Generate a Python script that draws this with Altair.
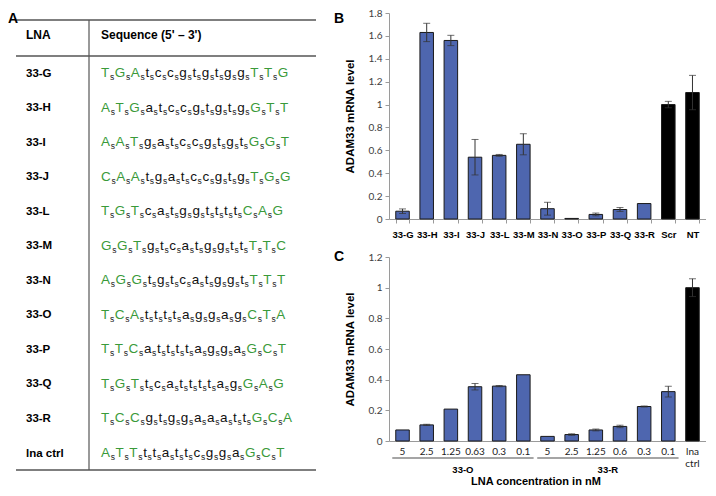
import altair as alt
import pandas as pd

# ---------------- data ----------------
LNA_NAMES = ["33-G", "33-H", "33-I", "33-J", "33-L", "33-M", "33-N",
             "33-O", "33-P", "33-Q", "33-R", "lna ctrl"]
SEQUENCES = ["TGAtccgtgtggTTG", "ATGatccgtgtgGTT", "AATgatccgtgtGGT",
             "CAAtgatccgtgTGG", "TGTcatggttttCAG", "GGTgtcatggttTTC",
             "AGGtgtcatggtTTT", "TCAttttaggagCTA", "TTCattttaggaGCT",
             "TGTtcattttagGAG", "TCCgtggaaattGCA", "ATTttattcggaGCT"]

B_CATS = ["33-G", "33-H", "33-I", "33-J", "33-L", "33-M", "33-N",
          "33-O", "33-P", "33-Q", "33-R", "Scr", "NT"]
B_VALUES = [0.068, 1.63, 1.56, 0.54, 0.556, 0.653, 0.09, 0.005, 0.04, 0.083, 0.135, 1.0, 1.105]
B_ERRORS = [0.02, 0.08, 0.045, 0.155, 0.008, 0.092, 0.056, 0.0, 0.012, 0.017, 0.0, 0.028, 0.15]
B_CONTROLS = ["Scr", "NT"]
B_TICKS = [0, 0.2, 0.4, 0.6, 0.8, 1.0, 1.2, 1.4, 1.6, 1.8]

C_GROUPS = ["33-O"] * 6 + ["33-R"] * 6 + ["ctrl"]
C_CONC = ["5", "2.5", "1.25", "0.63", "0.3", "0.1",
          "5", "2.5", "1.25", "0.6", "0.3", "0.1", "lna ctrl"]
C_VALUES = [0.072, 0.105, 0.208, 0.354, 0.358, 0.432,
            0.03, 0.042, 0.072, 0.095, 0.225, 0.322, 1.0]
C_ERRORS = [0.0, 0.004, 0.0, 0.021, 0.004, 0.0,
            0.0, 0.005, 0.006, 0.008, 0.004, 0.035, 0.058]
C_GROUP_LABELS = ["33-O", "33-R"]
C_TICKS = [0, 0.2, 0.4, 0.6, 0.8, 1.0, 1.2]

# ---------------- style / layout ----------------
BLUE = "#4E66AF"
GREEN = "#3A9A3A"
FONT = "Liberation Sans"
NUMFONT = "Lato"
AXIS_GRAY = "#9a9a9a"
ERR = "#333333"

X0, Y0 = 8, 14            # page position of the chart origin
TW, TH = 381, 462         # table panel
BW, BH = 317, 206         # panel B plot
CH = 184                  # panel C plot height
VSPACE = (258 - Y0) - BH  # C plot top at page y 258

PAD_IN, PAD_OUT = 0.44, 0.28
STEP = BW / (len(B_CATS) - PAD_IN + 2 * PAD_OUT)


def lx(px):
    return px - X0


def ly(py):
    return py - Y0


TABLE_LEFT, TABLE_RIGHT = 16, 316
TABLE_TOP, HEADER_LINE, TABLE_BOTTOM = 21, 57, 471
COL_LINE = 89
LABEL_X, SEQ_X = 26, 101
HEADER_Y = 35
ROW0 = 73
ROWSTEP = (453 - 73) / (len(LNA_NAMES) - 1)

# Liberation Sans / Arial advance widths (em)
WIDTHS = {"A": 0.667, "C": 0.722, "G": 0.778, "T": 0.611,
          "a": 0.556, "c": 0.5, "g": 0.556, "t": 0.278}
FS, FSS = 13.5, 8.5
S_ADV = 0.5 * FSS
_base = sum(WIDTHS[c] * FS for c in SEQUENCES[0]) + S_ADV * (len(SEQUENCES[0]) - 1)
TRACK = (188 - _base) / (2 * len(SEQUENCES[0]) - 1)

# ---------------- table (panel A) ----------------
tx = alt.Scale(domain=[0, TW], nice=False, zero=False)
ty = alt.Scale(domain=[0, TH], nice=False, zero=False, reverse=True)


def X(field):
    return alt.X(field, scale=tx, axis=None)


def Y(field):
    return alt.Y(field, scale=ty, axis=None)


hl = pd.DataFrame({"x": [lx(TABLE_LEFT)] * 3, "x2": [lx(TABLE_RIGHT)] * 3,
                   "y": [ly(TABLE_TOP), ly(HEADER_LINE), ly(TABLE_BOTTOM)]})
vl = pd.DataFrame({"x": [lx(COL_LINE)], "y": [ly(TABLE_TOP)], "y2": [ly(TABLE_BOTTOM)]})

hrules = alt.Chart(hl).mark_rule(color="#555555", strokeWidth=1.5).encode(
    x=X("x:Q"), x2="x2:Q", y=Y("y:Q"))
vrules = alt.Chart(vl).mark_rule(color="#555555", strokeWidth=1.2).encode(
    x=X("x:Q"), y=Y("y:Q"), y2="y2:Q")

head = pd.DataFrame({"x": [lx(LABEL_X), lx(SEQ_X)], "y": [ly(HEADER_Y + 4.5)] * 2,
                     "t": ["LNA", "Sequence (5' \u2013 3')"]})
head_txt = alt.Chart(head).mark_text(align="left", baseline="alphabetic", font=FONT,
                                     fontSize=12, fontWeight="bold", color="black").encode(
    x=X("x:Q"), y=Y("y:Q"), text="t:N")

lab = pd.DataFrame({"x": [lx(LABEL_X)] * len(LNA_NAMES),
                    "y": [ly(ROW0 + i * ROWSTEP + 4.5) for i in range(len(LNA_NAMES))],
                    "t": LNA_NAMES})
lab_txt = alt.Chart(lab).mark_text(align="left", baseline="alphabetic", font=FONT,
                                   fontSize=11.5, fontWeight="bold", color="black").encode(
    x=X("x:Q"), y=Y("y:Q"), text="t:N")

tokens = []
for r, seq in enumerate(SEQUENCES):
    yb = ly(ROW0 + r * ROWSTEP + 5)
    xp = SEQ_X
    for i, ch in enumerate(seq):
        tokens.append({"x": lx(xp), "y": yb, "t": ch, "kind": "up" if ch.isupper() else "low"})
        xp += WIDTHS[ch] * FS + TRACK
        if i < len(seq) - 1:
            tokens.append({"x": lx(xp), "y": yb, "t": "s", "kind": "sub"})
            xp += S_ADV + TRACK
tok = pd.DataFrame(tokens)

up_txt = alt.Chart(tok).transform_filter("datum.kind == 'up'").mark_text(
    align="left", baseline="alphabetic", font=FONT, fontSize=FS, color=GREEN).encode(
    x=X("x:Q"), y=Y("y:Q"), text="t:N")
low_txt = alt.Chart(tok).transform_filter("datum.kind == 'low'").mark_text(
    align="left", baseline="alphabetic", font=FONT, fontSize=FS, color="#111111").encode(
    x=X("x:Q"), y=Y("y:Q"), text="t:N")
sub_txt = alt.Chart(tok).transform_filter("datum.kind == 'sub'").mark_text(
    align="left", baseline="alphabetic", font=FONT, fontSize=FSS, color="#222222", dy=3).encode(
    x=X("x:Q"), y=Y("y:Q"), text="t:N")

panels = pd.DataFrame({"x": [lx(8), lx(334), lx(334)], "y": [6, 6, ly(258)],
                       "t": ["A", "B", "C"]})
panel_txt = alt.Chart(panels).mark_text(align="left", baseline="middle", font=FONT,
                                        fontSize=14, fontWeight="bold", color="black").encode(
    x=X("x:Q"), y=Y("y:Q"), text="t:N")

table = alt.layer(hrules, vrules, head_txt, lab_txt, up_txt, low_txt, sub_txt,
                  panel_txt).properties(width=TW, height=TH)

# ---------------- shared axis pieces ----------------
YTITLE = "ADAM33 mRNA level"


def y_axis(vals):
    return alt.Axis(title=YTITLE, values=vals, format=".1~f", grid=False, labelOverlap=False,
                    labelFont=NUMFONT, labelFontSize=10, labelColor="#404040", labelPadding=3,
                    tickSize=4, tickColor=AXIS_GRAY, domainColor=AXIS_GRAY,
                    titleFont=FONT, titleFontWeight="bold", titleFontSize=11.5,
                    titleColor="black", titleX=-39, titleBaseline="middle")


color = alt.Color("kind:N", scale=alt.Scale(domain=["lna", "ctrl"], range=[BLUE, "black"]),
                  legend=None)

# ---------------- panel B ----------------
dfB = pd.DataFrame({"cat": B_CATS, "value": B_VALUES, "err": B_ERRORS})
dfB["kind"] = ["ctrl" if c in B_CONTROLS else "lna" for c in B_CATS]
dfB["lo"] = dfB["value"] - dfB["err"]
dfB["hi"] = dfB["value"] + dfB["err"]

xB_axis = alt.Axis(labelAngle=0, labelFont=FONT, labelFontWeight="bold",
                   labelFontSize=9.5, labelColor="black", labelPadding=6,
                   tickBand="extent", tickSize=4, tickColor=AXIS_GRAY,
                   domainColor=AXIS_GRAY, labelOverlap=False)
yB_scale = alt.Scale(domain=[0, 1.8], nice=False)


def xB():
    return alt.X("cat:N", sort=B_CATS, title=None,
                 scale=alt.Scale(paddingInner=PAD_IN, paddingOuter=PAD_OUT), axis=xB_axis)


def yB(field):
    return alt.Y(field, scale=yB_scale, axis=y_axis(B_TICKS))


barsB = alt.Chart(dfB).mark_bar(stroke="#1a1a1a", strokeWidth=1).encode(
    x=xB(), y=yB("value:Q"), color=color)
errB = alt.Chart(dfB).transform_filter("datum.err > 0").mark_rule(color=ERR, strokeWidth=1).encode(
    x=xB(), y=yB("lo:Q"), y2="hi:Q")
capB1 = alt.Chart(dfB).transform_filter("datum.err > 0").mark_tick(
    color=ERR, size=7, thickness=1, orient="horizontal").encode(x=xB(), y=yB("hi:Q"))
capB2 = alt.Chart(dfB).transform_filter("datum.err > 0").mark_tick(
    color=ERR, size=7, thickness=1, orient="horizontal").encode(x=xB(), y=yB("lo:Q"))

chartB = alt.layer(barsB, errB, capB1, capB2).properties(width=BW, height=BH)

# ---------------- panel C ----------------
C_KEYS = [f"{g}|{c}" for g, c in zip(C_GROUPS, C_CONC)]
dfC = pd.DataFrame({"key": C_KEYS, "value": C_VALUES, "err": C_ERRORS})
dfC["kind"] = ["ctrl" if g == "ctrl" else "lna" for g in C_GROUPS]
dfC["lo"] = dfC["value"] - dfC["err"]
dfC["hi"] = dfC["value"] + dfC["err"]

XTITLE = "LNA concentration in nM"
xC_axis = alt.Axis(labelAngle=0, labelFont=NUMFONT, labelFontSize=10,
                   labelColor="#222222", labelPadding=5, ticks=False,
                   domainColor=AXIS_GRAY, labelOverlap=False,
                   labelExpr="split(split(datum.value, '|')[1], ' ')",
                   titleFont=FONT, titleFontWeight="bold", titleFontSize=11,
                   titleColor="black",
                   titleX=PAD_OUT * STEP + 6 * STEP - PAD_IN * STEP / 2,
                   titleY=40, titleBaseline="middle")
yC_scale = alt.Scale(domain=[0, 1.2], nice=False)


def xC():
    return alt.X("key:N", sort=C_KEYS, title=XTITLE,
                 scale=alt.Scale(paddingInner=PAD_IN, paddingOuter=PAD_OUT), axis=xC_axis)


def yC(field):
    return alt.Y(field, scale=yC_scale, axis=y_axis(C_TICKS))


barsC = alt.Chart(dfC).mark_bar(stroke="#1a1a1a", strokeWidth=1).encode(
    x=xC(), y=yC("value:Q"), color=color)
errC = alt.Chart(dfC).transform_filter("datum.err > 0").mark_rule(color=ERR, strokeWidth=1).encode(
    x=xC(), y=yC("lo:Q"), y2="hi:Q")
capC1 = alt.Chart(dfC).transform_filter("datum.err > 0").mark_tick(
    color=ERR, size=7, thickness=1, orient="horizontal").encode(x=xC(), y=yC("hi:Q"))
capC2 = alt.Chart(dfC).transform_filter("datum.err > 0").mark_tick(
    color=ERR, size=7, thickness=1, orient="horizontal").encode(x=xC(), y=yC("lo:Q"))

# group underline + label, anchored on the 3rd category of each group
grp_rows = []
for g in C_GROUP_LABELS:
    ks = [k for k, gg in zip(C_KEYS, C_GROUPS) if gg == g]
    grp_rows.append({"g": g, "key": ks[len(ks) // 2 - 1], "n": len(ks)})
dfG = pd.DataFrame(grp_rows)

grp_line = alt.Chart(dfG).mark_tick(color="black", thickness=1, orient="horizontal",
                                    size=5.85 * STEP, xOffset=STEP / 2).encode(
    x=xC(), y=alt.value(CH + 17))
grp_txt = alt.Chart(dfG).mark_text(font=FONT, fontSize=9.5, fontWeight="bold", color="black",
                                   baseline="middle", xOffset=STEP / 2).encode(
    x=xC(), y=alt.value(CH + 29), text="g:N")

chartC = alt.layer(barsC, errC, capC1, capC2, grp_line, grp_txt).properties(width=BW, height=CH)

chart = alt.hconcat(
    table,
    alt.vconcat(chartB, chartC, spacing=VSPACE, bounds="flush"),
    spacing=0, bounds="flush", padding=0,
).configure_view(stroke=None)

chart.save("out.html", embed_options={"renderer": "svg", "actions": False})
